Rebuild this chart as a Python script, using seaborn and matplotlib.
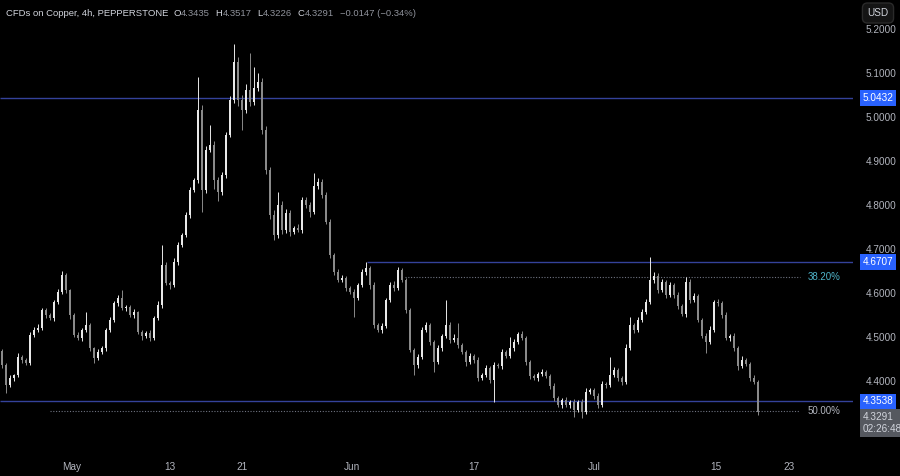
import numpy as np
import pandas as pd
import matplotlib.pyplot as plt
import seaborn as sns

# ============================================================
# DATA (~8h steps)
# ============================================================

first_open = 4.468
closes = [
    4.436, 4.391, 4.407, 4.414, 4.455, 4.448, 4.441, 4.505, 4.516, 4.520,
    4.561, 4.550, 4.543, 4.580, 4.602, 4.641, 4.607, 4.550, 4.505, 4.498,
    4.516, 4.527, 4.475, 4.452, 4.466, 4.475, 4.516, 4.539, 4.577, 4.589,
    4.566, 4.568, 4.550, 4.557, 4.511, 4.502, 4.509, 4.498, 4.543, 4.573,
    4.664, 4.623, 4.618, 4.670, 4.709, 4.732, 4.777, 4.834, 4.857, 5.016,
    4.834, 4.925, 4.936, 4.857, 4.830, 4.868, 4.959, 5.039, 5.125, 5.039,
    5.016, 5.061, 5.034, 5.066, 5.080, 4.970, 4.880, 4.777, 4.732, 4.800,
    4.743, 4.782, 4.739, 4.748, 4.743, 4.811, 4.800, 4.784, 4.843, 4.852,
    4.823, 4.761, 4.686, 4.648, 4.630, 4.634, 4.611, 4.602, 4.589, 4.618,
    4.648, 4.657, 4.618, 4.527, 4.516, 4.525, 4.584, 4.618, 4.611, 4.652,
    4.630, 4.561, 4.470, 4.436, 4.455, 4.516, 4.527, 4.489, 4.443, 4.475,
    4.502, 4.527, 4.493, 4.498, 4.482, 4.466, 4.443, 4.457, 4.448, 4.407,
    4.414, 4.430, 4.402, 4.436, 4.434, 4.466, 4.457, 4.475, 4.489, 4.507,
    4.498, 4.443, 4.411, 4.407, 4.416, 4.420, 4.411, 4.389, 4.361, 4.345,
    4.357, 4.345, 4.352, 4.334, 4.352, 4.330, 4.375, 4.380, 4.366, 4.345,
    4.393, 4.391, 4.414, 4.425, 4.407, 4.398, 4.475, 4.527, 4.516, 4.539,
    4.557, 4.580, 4.630, 4.639, 4.607, 4.625, 4.595, 4.618, 4.595, 4.570,
    4.552, 4.625, 4.584, 4.593, 4.539, 4.502, 4.489, 4.516, 4.580, 4.577,
    4.550, 4.498, 4.502, 4.475, 4.434, 4.448, 4.439, 4.407, 4.398, 4.3291,
]
# wick extensions beyond the body, in thousandths
hi_ext = [
    5, 4, 6, 3, 8, 5, 4, 7, 6, 9,
    6, 4, 5, 3, 7, 8, 5, 3, 4, 6,
    5, 30, 4, 3, 6, 5, 4, 7, 5, 6,
    18, 5, 4, 7, 3, 5, 4, 6, 5, 8,
    45, 6, 5, 9, 7, 5, 6, 8, 4, 75,
    12, 8, 45, 10, 6, 8, 7, 9, 40, 12,
    10, 15, 84, 48, 20, 8, 10, 6, 12, 30,
    8, 10, 6, 5, 9, 7, 8, 6, 30, 10,
    8, 6, 7, 5, 6, 8, 5, 4, 6, 5,
    7, 14, 5, 6, 4, 7, 5, 6, 9, 6,
    5, 4, 6, 5, 7, 6, 8, 5, 4, 6,
    5, 57, 6, 8, 34, 5, 4, 6, 5, 7,
    5, 6, 4, 8, 5, 6, 4, 25, 6, 5,
    7, 5, 4, 6, 5, 7, 4, 5, 6, 4,
    5, 6, 4, 7, 5, 6, 8, 5, 4, 6,
    7, 5, 41, 6, 4, 5, 8, 18, 5, 6,
    7, 6, 52, 8, 6, 7, 5, 6, 4, 7,
    5, 11, 6, 7, 5, 4, 6, 8, 5, 6,
    5, 7, 4, 6, 5, 8, 4, 5, 6, 4,
]
lo_ext = [
    6, 18, 5, 7, 4, 6, 5, 4, 6, 5,
    4, 6, 5, 7, 4, 5, 6, 8, 5, 4,
    6, 5, 7, 12, 4, 5, 6, 4, 5, 6,
    5, 7, 4, 6, 5, 8, 4, 6, 5, 4,
    6, 5, 10, 4, 6, 5, 4, 6, 5, 8,
    50, 6, 5, 20, 20, 8, 6, 5, 7, 15,
    46, 8, 10, 6, 7, 8, 10, 9, 12, 6,
    8, 7, 10, 6, 5, 7, 6, 12, 5, 6,
    7, 5, 6, 8, 5, 6, 7, 5, 44, 6,
    5, 6, 8, 7, 5, 6, 4, 5, 6, 5,
    6, 7, 5, 22, 6, 5, 4, 7, 23, 5,
    6, 5, 7, 4, 6, 5, 8, 5, 6, 7,
    5, 6, 7, 50, 5, 6, 4, 5, 6, 5,
    4, 6, 7, 5, 6, 4, 5, 7, 6, 5,
    6, 5, 7, 16, 5, 14, 6, 5, 7, 6,
    5, 6, 4, 5, 7, 6, 5, 4, 6, 5,
    6, 5, 4, 7, 6, 5, 6, 5, 7, 6,
    5, 6, 7, 5, 6, 4, 25, 6, 5, 7,
    6, 5, 7, 6, 8, 5, 6, 7, 5, 6,
]

level_prices = [5.0432, 4.6707, 4.3538]
level_starts = [-0.5, 91.25, -0.5]
fib_prices = [4.637, 4.332]
fib_starts = [100.75, 12.0]
fib_labels = ["38.20%", "50.00%"]
fib_colors = ["#4fb3c9", "#b2b5be"]

price_ticks = [4.4, 4.5, 4.6, 4.7, 4.8, 4.9, 5.0, 5.1, 5.2]
time_pos = [17.5, 42, 60, 87.5, 118, 148, 178.5, 196.75]
time_labels = ["May", "13", "21", "Jun", "17", "Jul", "15", "23"]

last_o, last_h, last_l, last_c = "4.3435", "4.3517", "4.3226", "4.3291"
last_chg = "\u22120.0147 (\u22120.34%)"
countdown = "02:26:48"

# ============================================================
# STYLE
# ============================================================

BG = "#000000"
TXT = "#b2b5be"
UP = "#e8e8e8"
DN = "#8a8a8a"
LEVEL = "#34429a"
TAG = "#2962ff"

sns.set_theme(style="dark", rc={
    "figure.facecolor": BG,
    "axes.facecolor": BG,
    "savefig.facecolor": BG,
})
plt.rcParams["font.family"] = ["Liberation Sans", "DejaVu Sans"]

# ============================================================
# CANDLES
# ============================================================

df = pd.DataFrame({"close": closes})
df["open"] = [first_open] + closes[:-1]
df["top"] = df[["open", "close"]].max(axis=1)
df["bot"] = df[["open", "close"]].min(axis=1)
df["high"] = df["top"] + np.array(hi_ext) / 1000
df["low"] = df["bot"] - np.array(lo_ext) / 1000
df["color"] = np.where(df["close"] >= df["open"], UP, DN)
df["body"] = (df["top"] - df["bot"]).clip(lower=0.0015)

W, H = 900, 476
fig = plt.figure(figsize=(W / 100, H / 100), dpi=100)
ax = fig.add_axes([0, 21 / H, 853 / W, 455 / H])

x = df.index.values
ax.vlines(x, df["low"], df["high"], colors=df["color"], linewidth=0.7, zorder=3)
ax.bar(x, df["body"], bottom=df["bot"], width=0.62, color=df["color"],
       linewidth=0, zorder=4)

# ============================================================
# LEVELS
# ============================================================

xmax = 212.75
for p, s in zip(level_prices, level_starts):
    ax.hlines(p, s, xmax, color=LEVEL, linewidth=1.0, zorder=2)
for p, s, lab, c in zip(fib_prices, fib_starts, fib_labels, fib_colors):
    ax.hlines(p, s, 199.5, color="#6f7380", linewidth=0.8,
              linestyle=(0, (1, 1.5)), zorder=2)
    ax.text(201.5, p, lab, color=c, fontsize=7, va="center", ha="left")

# ============================================================
# AXES
# ============================================================

ax.set_xlim(-0.5, xmax)
ax.set_ylim(4.2318, 5.2659)
ax.grid(False)
for sp in ax.spines.values():
    sp.set_visible(False)

ax.set_yticks(price_ticks)
ax.set_yticklabels([f"{t:.4f}" for t in price_ticks])
ax.yaxis.tick_right()
ax.tick_params(axis="y", length=0, pad=9, labelsize=7.2, labelcolor=TXT)
ax.set_xticks(time_pos)
ax.set_xticklabels(time_labels)
ax.tick_params(axis="x", length=0, pad=5, labelsize=7.2, labelcolor=TXT)

# price tags
for p in level_prices:
    ax.annotate(f"{p:.4f}", xy=(1.0, p), xycoords=("axes fraction", "data"),
                xytext=(7, 0), textcoords="offset points", va="center",
                ha="left", fontsize=7.2, color="white",
                bbox=dict(boxstyle="square,pad=0.28", fc=TAG, ec="none"),
                annotation_clip=False)
ax.annotate(f"{last_c}\n{countdown}", xy=(1.0, float(last_c)),
            xycoords=("axes fraction", "data"), xytext=(7, 0),
            textcoords="offset points", va="top", ha="left", fontsize=7.2,
            color="#d1d4dc", linespacing=1.2,
            bbox=dict(boxstyle="square,pad=0.28", fc="#55585f", ec="none"),
            annotation_clip=False)

# USD button
fig.text(878 / W, 1 - 13 / H, "USD", color="#d1d4dc", fontsize=7.2,
         ha="center", va="center",
         bbox=dict(boxstyle="round,pad=0.5", fc="#141414", ec="#2a2a2a"))

# header line, laid out piece by piece
ty = 1 - 13 / H
pieces = [("CFDs on Copper, 4h, PEPPERSTONE", "#d1d4dc", 5),
          ("O", "#d1d4dc", 0), (last_o, "#8f929b", 6),
          ("H", "#d1d4dc", 0), (last_h, "#8f929b", 6),
          ("L", "#d1d4dc", 0), (last_l, "#8f929b", 6),
          ("C", "#d1d4dc", 0), (last_c, "#8f929b", 6),
          (last_chg, "#8f929b", 0)]
renderer = fig.canvas.get_renderer()
px = 6
for s, c, gap in pieces:
    t = fig.text(px / W, ty, s, color=c, fontsize=6.8, va="center")
    px += t.get_window_extent(renderer).width + gap

fig.savefig("out.png", dpi=100, facecolor=BG)
